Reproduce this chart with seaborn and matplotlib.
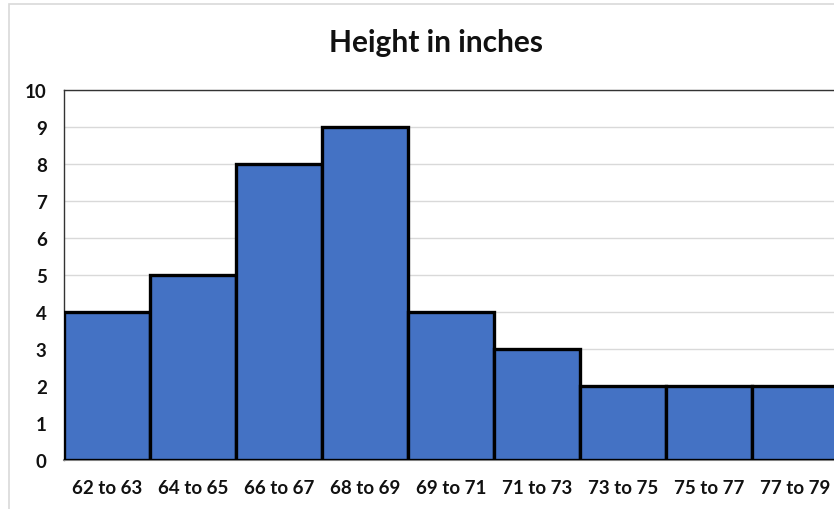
import matplotlib
matplotlib.use("Agg")
import matplotlib.pyplot as plt
import seaborn as sns
from matplotlib.patches import Rectangle

# Data
bins = ["62 to 63", "64 to 65", "66 to 67", "68 to 69", "69 to 71",
        "71 to 73", "73 to 75", "75 to 77", "77 to 79"]
counts = [4, 5, 8, 9, 4, 3, 2, 2, 2]
y_ticks = list(range(0, 11))

sns.set_theme(style="white")
plt.rcParams["font.family"] = ["Lato", "DejaVu Sans"]

fig = plt.figure(figsize=(8.34, 5.10), dpi=100)
ax = fig.add_axes([64 / 834, 1 - 461 / 510, 774 / 834, 370 / 510])

# outer chart border (right and bottom run off the canvas)
fig.patches.append(Rectangle((9 / 834, -0.05), 1.2, 1.05 - 4.5 / 510,
                             transform=fig.transFigure, fill=False,
                             edgecolor="#d9d9d9", linewidth=1.2))

sns.barplot(x=bins, y=counts, ax=ax, width=1, color="#4472C4", saturation=1,
            edgecolor="black", linewidth=2.4, zorder=3)

ax.set_ylim(0, 10)
ax.set_xlim(-0.5, len(bins) - 0.5)
ax.set_yticks(y_ticks)
ax.yaxis.grid(True, color="#d9d9d9", linewidth=1, zorder=0)
ax.set_axisbelow(True)
ax.tick_params(axis="both", length=0, labelsize=13.5, colors="#111111")
ax.tick_params(axis="x", pad=14)
ax.tick_params(axis="y", pad=12.5)
for lbl in ax.get_xticklabels() + ax.get_yticklabels():
    lbl.set_fontweight("bold")
for side in ["left", "top", "right"]:
    ax.spines[side].set_color("#333333")
    ax.spines[side].set_linewidth(1.0)
ax.spines["bottom"].set_color("#808080")
ax.spines["bottom"].set_linewidth(1.5)
ax.set_xlabel("")
ax.set_ylabel("")

fig.text(436 / 834, 1 - 43 / 510, "Height in inches", ha="center", va="center",
         fontsize=21.5, fontweight="bold", color="#111111")

fig.savefig("out.png", dpi=100)
